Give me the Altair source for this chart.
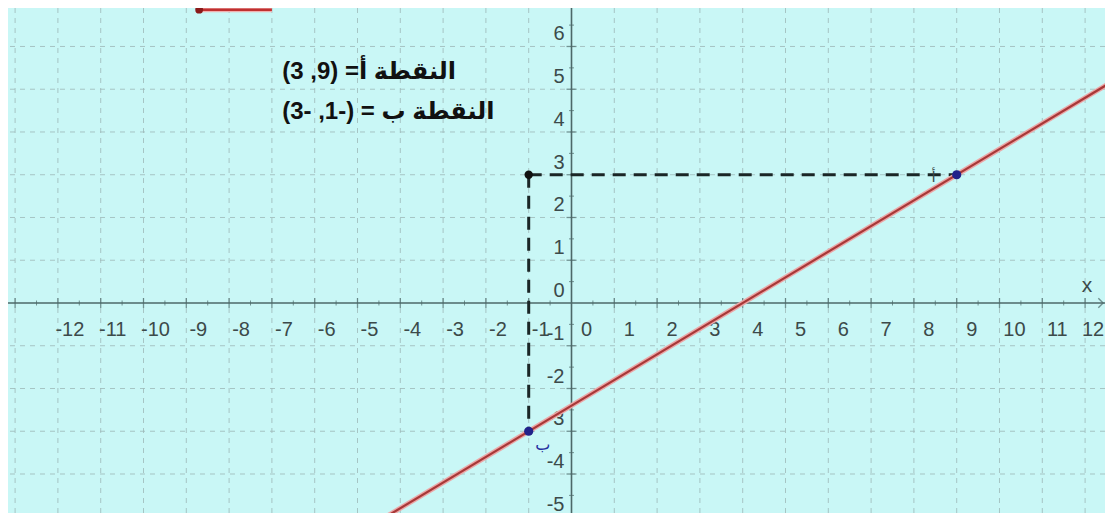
import altair as alt
import pandas as pd

# ---------------- data ----------------
x_labels = [-12, -11, -10, -9, -8, -7, -6, -5, -4, -3, -2, -1, 0, 1, 2, 3, 4, 5, 6, 7, 8, 9, 10, 11, 12]
y_labels = [-5, -4, -3, -2, -1, 0, 1, 2, 3, 4, 5, 6]
grid_x = [-13, -12, -11, -10, -9, -8, -7, -6, -5, -4, -3, -2, -1, 1, 2, 3, 4, 5, 6, 7, 8, 9, 10, 11, 12]
grid_y = [-5, -4, -3, -2, -1, 1, 2, 3, 4, 5, 6]
major_x = [-13, -12, -11, -10, -9, -8, -7, -6, -5, -4, -3, -2, -1, 1, 2, 3, 4, 5, 6, 7, 8, 9, 10, 11, 12]
minor_x = [-12.5, -11.5, -10.5, -9.5, -8.5, -7.5, -6.5, -5.5, -4.5, -3.5, -2.5, -1.5, -0.5,
           0.5, 1.5, 2.5, 3.5, 4.5, 5.5, 6.5, 7.5, 8.5, 9.5, 10.5, 11.5]
major_y = [-5, -4, -3, -2, -1, 1, 2, 3, 4, 5, 6]
minor_y = [-4.5, -3.5, -2.5, -1.5, -0.5, 0.5, 1.5, 2.5, 3.5, 4.5, 5.5, 6.5]

line_x = [-6, 14]        # red line through A and B
line_y = [-6, 6]

pt_names = ["أ", "ب", "C"]
pt_x = [9, -1, -1]
pt_y = [3, -3, 3]

dash_h_x = [-1, 9]
dash_h_y = [3, 3]
dash_v_x = [-1, -1]
dash_v_y = [3, -3]

slider_x = [-8.7, -7.0]
slider_y = [6.86, 6.86]

text_lines = ["النقطة أ= (9, 3)", "النقطة ب = (-1, -3)"]
text_x = [-6.76, -6.76]
text_y = [5.40, 4.47]

# ---------------- layout ----------------
W, H = 1097, 505
X0, X1 = -13.166, 12.465
Y1, Y0 = 6.90, -4.912

BG = "#C9F7F6"
GRID = "#9EB8B8"
AXIS = "#4C6868"
LAB = "#3C4A4A"
FONT = "Liberation Sans"

xs = alt.Scale(domain=[X0, X1], nice=False, zero=False)
ys = alt.Scale(domain=[Y0, Y1], nice=False, zero=False)


def X(f):
    return alt.X(f, type="quantitative", scale=xs, axis=None)


def Y(f):
    return alt.Y(f, type="quantitative", scale=ys, axis=None)


gx = alt.Chart(pd.DataFrame({"g": grid_x})).mark_rule(
    color=GRID, strokeWidth=1, strokeDash=[5, 5], opacity=0.8
).encode(x=X("g"))
gy = alt.Chart(pd.DataFrame({"g": grid_y})).mark_rule(
    color=GRID, strokeWidth=1, strokeDash=[5, 5], opacity=0.8, clip=True
).encode(y=Y("g"))

ax_x = alt.Chart(pd.DataFrame({"v": [0]})).mark_rule(color=AXIS, strokeWidth=1.6).encode(y=Y("v"))
ax_y = alt.Chart(pd.DataFrame({"v": [0]})).mark_rule(color=AXIS, strokeWidth=1.6).encode(x=X("v"))

tk_major_x = alt.Chart(pd.DataFrame({"t": major_x, "z": 0})).mark_tick(
    orient="vertical", color=AXIS, size=10, thickness=1.3
).encode(x=X("t"), y=Y("z"))
tk_minor_x = alt.Chart(pd.DataFrame({"t": minor_x, "z": 0})).mark_tick(
    orient="vertical", color=AXIS, size=5, thickness=1
).encode(x=X("t"), y=Y("z"))
tk_major_y = alt.Chart(pd.DataFrame({"t": major_y, "z": 0})).mark_tick(
    orient="horizontal", color=AXIS, size=10, thickness=1.3, clip=True
).encode(y=Y("t"), x=X("z"))
tk_minor_y = alt.Chart(pd.DataFrame({"t": minor_y, "z": 0})).mark_tick(
    orient="horizontal", color=AXIS, size=5, thickness=1, clip=True
).encode(y=Y("t"), x=X("z"))

arrow = alt.Chart(pd.DataFrame({"a": [12.42], "z": [0]})).mark_point(
    shape="M-1,-1L0,0L-1,1", size=90, filled=False, color=AXIS, strokeWidth=1.4, clip=True
).encode(x=X("a"), y=Y("z"))

xl_df = pd.DataFrame({"v": x_labels, "lab": [str(v) for v in x_labels], "z": 0})
xl_neg = alt.Chart(xl_df[xl_df.v < 0]).mark_text(
    font=FONT, fontSize=20, color=LAB, align="center", baseline="middle", dx=12, dy=27
).encode(x=X("v"), y=Y("z"), text="lab:N")
xl_pos = alt.Chart(xl_df[(xl_df.v >= 0) & (xl_df.v < 12)]).mark_text(
    font=FONT, fontSize=20, color=LAB, align="center", baseline="middle", dx=15, dy=27
).encode(x=X("v"), y=Y("z"), text="lab:N")
xl_last = alt.Chart(xl_df[xl_df.v == 12]).mark_text(
    font=FONT, fontSize=20, color=LAB, align="center", baseline="middle", dx=8, dy=27
).encode(x=X("v"), y=Y("z"), text="lab:N")

yl_df = pd.DataFrame({"v": y_labels, "lab": [str(v) for v in y_labels], "z": 0})
yl = alt.Chart(yl_df).mark_text(
    font=FONT, fontSize=20, color=LAB, align="right", baseline="middle", dx=-7, dy=-12
).encode(x=X("z"), y=Y("v"), text="lab:N")

xname = alt.Chart(pd.DataFrame({"a": [12], "z": [0], "t": ["x"]})).mark_text(
    font=FONT, fontSize=21, color=LAB, align="center", baseline="middle", dx=2, dy=-17
).encode(x=X("a"), y=Y("z"), text="t:N")

line_df = pd.DataFrame({"x": line_x, "y": line_y})
red_halo = alt.Chart(line_df).mark_line(color="#EBA7A7", strokeWidth=5, clip=True).encode(x=X("x"), y=Y("y"))
red = alt.Chart(line_df).mark_line(color="#A83838", strokeWidth=2.2, clip=True).encode(x=X("x"), y=Y("y"))

dash_h = alt.Chart(pd.DataFrame({"x": dash_h_x, "y": dash_h_y})).mark_line(
    color="#1A2626", strokeWidth=3, strokeDash=[13, 8]
).encode(x=X("x"), y=Y("y"))
dash_v = alt.Chart(pd.DataFrame({"x": dash_v_x, "y": dash_v_y})).mark_line(
    color="#1A2626", strokeWidth=3, strokeDash=[13, 8]
).encode(x=X("x"), y=Y("y"))

pts_df = pd.DataFrame({"n": pt_names, "x": pt_x, "y": pt_y})
pts_blue = alt.Chart(pts_df.iloc[:2]).mark_circle(size=85, color="#22228A", opacity=1).encode(x=X("x"), y=Y("y"))
pt_black = alt.Chart(pts_df.iloc[2:]).mark_circle(size=70, color="#111111", opacity=1).encode(x=X("x"), y=Y("y"))

lab_a = alt.Chart(pts_df.iloc[:1]).mark_text(
    font="DejaVu Sans", fontSize=15, color="#3A4848", dx=-23, dy=2
).encode(x=X("x"), y=Y("y"), text="n:N")
lab_b = alt.Chart(pts_df.iloc[1:2]).mark_text(
    font="DejaVu Sans", fontSize=16, color="#2530A0", dx=14, dy=14
).encode(x=X("x"), y=Y("y"), text="n:N")

sl_df = pd.DataFrame({"x": slider_x, "y": slider_y})
slider_halo = alt.Chart(sl_df).mark_line(color="#F0B0B0", strokeWidth=5, clip=True).encode(x=X("x"), y=Y("y"))
slider = alt.Chart(sl_df).mark_line(color="#C03030", strokeWidth=2.5, clip=True).encode(x=X("x"), y=Y("y"))
slider_dot = alt.Chart(sl_df.iloc[:1]).mark_circle(size=60, color="#8A1A1A", opacity=1, clip=True).encode(x=X("x"), y=Y("y"))

txt_df = pd.DataFrame({"t": ["\u202b" + s + "\u202c" for s in text_lines], "x": text_x, "y": text_y})
txt = alt.Chart(txt_df).mark_text(
    font="Liberation Sans, DejaVu Sans", fontSize=24, fontWeight="bold", color="#111111",
    align="left", baseline="middle"
).encode(x=X("x"), y=Y("y"), text="t:N")

chart = alt.layer(
    gx, gy, ax_x, ax_y, tk_minor_x, tk_major_x, tk_minor_y, tk_major_y, arrow,
    xl_neg, xl_pos, xl_last, yl, xname,
    dash_h, dash_v, red_halo, red, pts_blue, pt_black, lab_a, lab_b,
    slider_halo, slider, slider_dot, txt
).properties(
    width=W, height=H, padding=0, background=BG,
    autosize=alt.AutoSizeParams(type="none")
).configure_view(fill=BG, stroke=None)

chart.save("out.html", embed_options={"renderer": "svg", "actions": False})
